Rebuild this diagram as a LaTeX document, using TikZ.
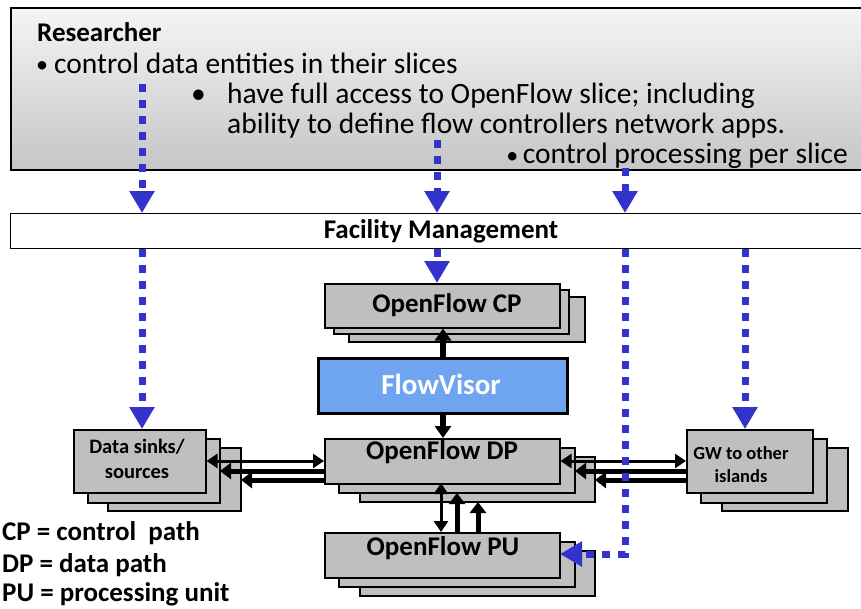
\documentclass[tikz,border=0pt]{standalone}
\usepackage{fontspec}
\setmainfont{Carlito}
\usetikzlibrary{arrows.meta}
\definecolor{dotblue}{HTML}{3333CC}
\definecolor{fvblue}{HTML}{6FA5F0}
\definecolor{boxgray}{HTML}{BFBFBF}
\begin{document}
\begin{tikzpicture}[x=1pt,y=-1pt,
  layer/.style={draw=black, fill=boxgray, line width=1.5pt},
  frontbox/.style={layer, inner sep=0pt, anchor=north west},
  bluearrow/.style={draw=dotblue, line width=7pt, dash pattern=on 8pt off 8pt, line cap=butt,
     -{Triangle[width=24pt,length=22pt,fill=dotblue]}},
  blkthin/.style={line width=3pt, {Triangle[width=14pt,length=11pt]}-{Triangle[width=14pt,length=11pt]}},
  blkthick/.style={line width=5pt, -{Triangle[width=16pt,length=11pt]}},
  bigtxt/.style={font=\fontsize{29.5}{34}\selectfont, inner sep=0pt},
  boldtxt/.style={font=\fontsize{27}{31}\selectfont\bfseries},
]
\useasboundingbox (0,0) rectangle (861,608);
% Researcher box
\shade[top color=gray!8, bottom color=gray!45, draw=black, line width=1.5pt] (11,8) rectangle (875,170);
\draw[line width=2pt] (11,170) -- (875,170);
\node[anchor=base west, font=\fontsize{27}{31}\selectfont\bfseries, inner sep=0pt] (res) at (37,41) {Researcher};
\node[anchor=base west, font=\fontsize{24}{28}\selectfont, inner sep=0pt] (b1) at (36,72) {\textbullet};
\node[anchor=base west, bigtxt] (l1) at (54,73) {control data entities in their slices};
\node[anchor=base west, bigtxt] (b2) at (191,103) {\textbullet};
\node[anchor=base west, bigtxt] (l2) at (227,103) {have full access to OpenFlow slice; including};
\node[anchor=base west, bigtxt] (l3) at (227,133) {ability to define flow controllers network apps.};
\node[anchor=base east, bigtxt] (l4) at (848,163) {control processing per slice};
\node[anchor=base east, font=\fontsize{24}{28}\selectfont, inner sep=0pt] (b4) at ([xshift=-4pt]l4.base west) {\textbullet};
% Facility management
\node[draw=black, line width=1.2pt, fill=white, minimum width=865pt, minimum height=35pt, inner sep=0pt, anchor=north west] (fm) at (10,213) {};
\node[boldtxt, anchor=base] (fmt) at (441,238) {Facility Management};
% stacks: CP
\draw[layer] (349,297) rectangle (585,342);
\draw[layer] (334,290) rectangle (569,334);
\node[frontbox, minimum width=235pt, minimum height=44pt] (cp) at (324,283) {};
\node[boldtxt] (cpt) at (447,305) {OpenFlow CP};
% FlowVisor
\node[draw=black, line width=3pt, fill=fvblue, minimum width=249pt, minimum height=55pt, inner sep=0pt, anchor=north west] (fv) at (317,357) {};
\node[font=\fontsize{29}{33}\selectfont\bfseries, text=white] (fvt) at (441,384) {FlowVisor};
% DP
\draw[layer] (360,457) rectangle (595,502);
\draw[layer] (339,448) rectangle (575,493);
\node[frontbox, minimum width=235pt, minimum height=45pt] (dp) at (324,438) {};
\node[boldtxt] (dpt) at (442,452) {OpenFlow DP};
% PU
\draw[layer] (360,551) rectangle (595,596);
\draw[layer] (339,542) rectangle (575,587);
\node[frontbox, minimum width=235pt, minimum height=45pt] (pu) at (324,532) {};
\node[boldtxt] (put) at (443,548) {OpenFlow PU};
% Data sinks
\draw[layer] (108,448) rectangle (241,511);
\draw[layer] (88,439) rectangle (220,503);
\node[frontbox, minimum width=132pt, minimum height=63pt] (ds) at (73,429) {};
\node[font=\fontsize{20.5}{25}\selectfont\bfseries, align=center] (dst) at (137,459) {Data sinks/\\sources};
% GW
\draw[layer] (722,448) rectangle (848,511);
\draw[layer] (701,439) rectangle (827,503);
\node[frontbox, minimum width=126pt, minimum height=63pt] (gw) at (686,429) {};
\node[font=\fontsize{18.5}{23}\selectfont\bfseries, align=center] (gwt) at (741,465) {GW to other\\islands};
% legend
\node[anchor=base west, boldtxt, inner sep=0pt] (lg1) at (2,540) {CP = control\ \ path};
\node[anchor=base west, boldtxt, inner sep=0pt] (lg2) at (2,572) {DP = data path};
\node[anchor=base west, boldtxt, inner sep=0pt] (lg3) at (2,601) {PU = processing unit};
% black arrows
\draw[line width=6pt, -{Triangle[width=16pt,length=12pt]}] (fv.north) -- (fv.north |- cp.south);
\draw[line width=6pt, -{Triangle[width=16pt,length=12pt]}] (fv.south) -- (fv.south |- dp.north);
\draw[blkthin] (ds.east |- 0,461) -- (dp.west |- 0,461);
\draw[blkthick] (dp.west |- 0,471) -- (220,471);
\draw[blkthick] (dp.west |- 0,480) -- (241,480);
\draw[blkthin] (dp.east |- 0,461) -- (gw.west |- 0,461);
\draw[blkthick] (gw.west |- 0,471) -- (575,471);
\draw[blkthick] (gw.west |- 0,480) -- (595,480);
\draw[blkthin] (441,483) -- (441,532);
\draw[blkthick] (457,532) -- (457,493);
\draw[blkthick] (478,532) -- (478,502);
% blue dotted arrows
\coordinate (s1) at (142,84);
\coordinate (s2) at (437,140);
\coordinate (s3) at (625,168);
\draw[bluearrow] (s1) -- (s1 |- fm.north);
\draw[bluearrow] (s2) -- (s2 |- fm.north);
\draw[bluearrow] (s3) -- (s3 |- fm.north);
\draw[bluearrow] (fm.south -| s1) -- (s1 |- ds.north);
\draw[bluearrow] (fm.south -| s2) -- (s2 |- cp.north);
\coordinate (c6) at (625,554);
\draw[bluearrow] (fm.south -| c6) -- (c6) -- (560,554);
\coordinate (s7) at (745,248);
\draw[bluearrow] (fm.south -| s7) -- (s7 |- gw.north);
\end{tikzpicture}
\end{document}
